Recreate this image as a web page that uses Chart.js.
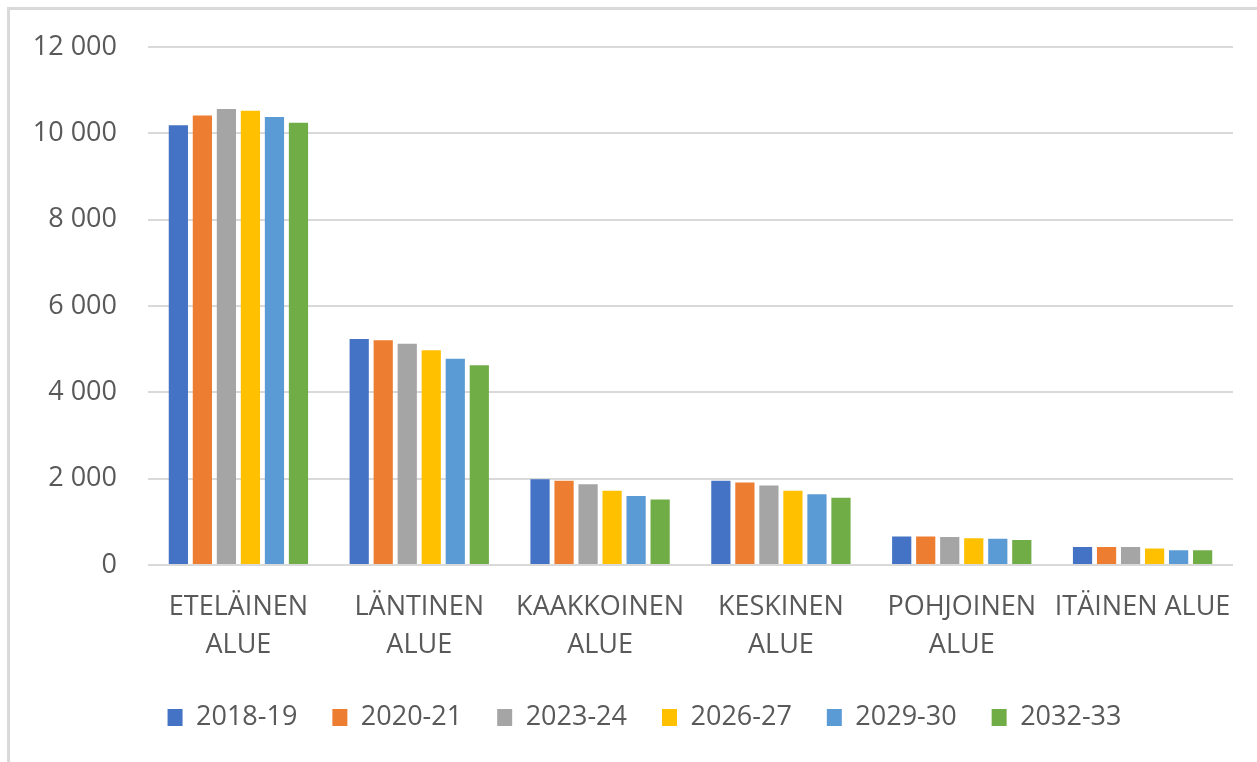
<!DOCTYPE html>
<html>
<head>
<meta charset="utf-8">
<script src="https://cdn.jsdelivr.net/npm/chart.js@4/dist/chart.umd.min.js"></script>
<style>
  html, body { margin: 0; padding: 0; background: #ffffff; overflow: hidden; width: 1257px; height: 762px; }
  #frameTop { position: absolute; left: 7px; top: 7px; width: 1250px; height: 3px; background: #d9d9d9; }
  #frameLeft { position: absolute; left: 7px; top: 7px; width: 3px; height: 755px; background: #d9d9d9; }
  #c { position: absolute; left: 0; top: 0; }
</style>
</head>
<body>
<div id="frameTop"></div>
<div id="frameLeft"></div>
<canvas id="c" width="1257" height="762"></canvas>
<script>
const categories = [['ETELÄINEN', 'ALUE'], ['LÄNTINEN', 'ALUE'], ['KAAKKOINEN', 'ALUE'], ['KESKINEN', 'ALUE'], ['POHJOINEN', 'ALUE'], 'ITÄINEN ALUE'];
const seriesNames = ['2018-19', '2020-21', '2023-24', '2026-27', '2029-30', '2032-33'];
const s2018_19 = [10190, 5240, 1990, 1950, 660, 420];
const s2020_21 = [10420, 5210, 1950, 1910, 660, 420];
const s2023_24 = [10570, 5130, 1870, 1840, 650, 420];
const s2026_27 = [10530, 4975, 1720, 1720, 620, 380];
const s2029_30 = [10380, 4780, 1600, 1640, 610, 340];
const s2032_33 = [10250, 4630, 1520, 1560, 580, 340];
const yTicks = [0, 2000, 4000, 6000, 8000, 10000, 12000];

const colors = ['#4472C4', '#ED7D31', '#A5A5A5', '#FFC000', '#5B9BD5', '#70AD47'];
const seriesValues = [s2018_19, s2020_21, s2023_24, s2026_27, s2029_30, s2032_33];

const FONT = "'Open Sans', 'Noto Sans', sans-serif";
const TEXT = '#595959';

function fmt(v) {
  return String(v).replace(/\B(?=(\d{3})+(?!\d))/g, '\u00a0');
}

const legendShift = {
  id: 'legendShift',
  afterLayout(chart) {
    const lg = chart.legend;
    if (lg) { lg.left += 16; lg.right += 16; }
  }
};

new Chart(document.getElementById('c'), {
  type: 'bar',
  data: {
    labels: categories,
    datasets: seriesNames.map((n, i) => ({
      label: n,
      data: seriesValues[i],
      backgroundColor: colors[i],
      borderWidth: 0,
      categoryPercentage: 0.797,
      barPercentage: 0.8
    }))
  },
  plugins: [legendShift],
  options: {
    responsive: false,
    animation: false,
    devicePixelRatio: 1,
    layout: { padding: { left: 24, right: 24, top: 47, bottom: 21 } },
    plugins: {
      tooltip: { enabled: false },
      legend: {
        position: 'bottom',
        labels: {
          font: { family: FONT, size: 27 },
          color: TEXT,
          boxWidth: 15,
          boxHeight: 17,
          padding: 35
        }
      }
    },
    scales: {
      x: {
        grid: { display: false, drawTicks: false },
        border: { display: false },
        ticks: {
          font: { family: FONT, size: 27, lineHeight: 1.42 },
          color: TEXT,
          maxRotation: 0,
          minRotation: 0,
          autoSkip: false,
          padding: 23
        },
        afterFit(scale) { scale.height = 104; }
      },
      y: {
        min: 0,
        max: 12000,
        afterBuildTicks(scale) { scale.ticks = yTicks.map(v => ({ value: v })); },
        grid: { color: '#d9d9d9', lineWidth: 2, drawTicks: false },
        border: { display: false },
        ticks: {
          font: { family: FONT, size: 27 },
          color: TEXT,
          padding: 31,
          callback: (v) => fmt(v)
        },
        afterFit(scale) { scale.width = 124; }
      }
    }
  }
});
</script>
</body>
</html>
